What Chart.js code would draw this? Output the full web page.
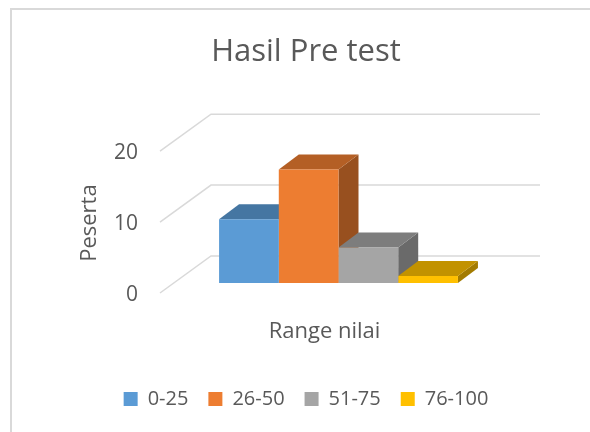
<!DOCTYPE html>
<html lang="id">
<head>
<meta charset="UTF-8">
<title>Hasil Pre test</title>
<script src="https://cdn.jsdelivr.net/npm/chart.js"></script>
<style>
  body { margin: 0; background: #fff; }
  canvas { display: block; }
</style>
</head>
<body>
<canvas id="chart" width="590" height="432"></canvas>
<script>
// data
const categories = ['Range nilai'];
const seriesNames = ['0-25', '26-50', '51-75', '76-100'];
const seriesValues = [[9], [16], [5], [1]];
const yTicks = [0, 10, 20];
const yTitle = 'Peserta';
const chartTitle = 'Hasil Pre test';

// look
const colors = ['#5B9BD5', '#ED7D31', '#A5A5A5', '#FFC000'];
const textColor = '#595959';
const gridColor = '#D9D9D9';
const fontFamily = '"Open Sans", sans-serif';

// fake 3d: offsets relative to the plane chart.js draws the bars on
const BAR_DX = 20, BAR_DY = -15;
const BACK_DX = 37, BACK_DY = -27;
const FRONT_DX = -14, FRONT_DY = 10;
const LEGEND_PAD = 20;

function shade(hex, f) {
  const n = parseInt(hex.slice(1), 16);
  const r = Math.round(((n >> 16) & 255) * f);
  const g = Math.round(((n >> 8) & 255) * f);
  const b = Math.round((n & 255) * f);
  return `rgb(${r},${g},${b})`;
}

function poly(ctx, pts) {
  ctx.beginPath();
  ctx.moveTo(pts[0][0], pts[0][1]);
  for (let i = 1; i < pts.length; i++) ctx.lineTo(pts[i][0], pts[i][1]);
  ctx.closePath();
  ctx.fill();
}

const box3d = {
  id: 'box3d',
  beforeDraw(chart) {
    const ctx = chart.ctx;
    ctx.save();
    ctx.fillStyle = '#fff';
    ctx.fillRect(0, 0, chart.width, chart.height);
    ctx.strokeStyle = gridColor;
    ctx.lineWidth = 2;
    ctx.strokeRect(11, 9, chart.width + 20, chart.height + 20);
    ctx.restore();
  },
  beforeDatasetsDraw(chart) {
    const {ctx, chartArea: a} = chart;
    const y = chart.scales.y;
    ctx.save();

    // walls / floor gridlines
    ctx.strokeStyle = gridColor;
    ctx.lineWidth = 1.5;
    yTicks.forEach(v => {
      const py = y.getPixelForValue(v);
      ctx.beginPath();
      ctx.moveTo(a.left + FRONT_DX, py + FRONT_DY);
      ctx.lineTo(a.left + BACK_DX, py + BACK_DY);
      ctx.lineTo(a.right + BACK_DX, py + BACK_DY);
      ctx.stroke();
    });

    // value labels sit on the front edge
    ctx.fillStyle = textColor;
    ctx.font = '21px ' + fontFamily;
    ctx.textAlign = 'right';
    ctx.textBaseline = 'middle';
    yTicks.forEach(v => {
      ctx.fillText(String(v), a.left + FRONT_DX - 22, y.getPixelForValue(v) + FRONT_DY + 2);
    });

    // axis title
    const mid = (y.getPixelForValue(yTicks[0]) + y.getPixelForValue(yTicks[yTicks.length - 1])) / 2;
    ctx.translate(90, mid + FRONT_DY + 1);
    ctx.rotate(-Math.PI / 2);
    ctx.textAlign = 'center';
    ctx.font = '22px ' + fontFamily;
    ctx.fillText(yTitle, 0, 0);
    ctx.restore();

    // side and top faces, left to right; fronts are drawn by chart.js afterwards
    chart.data.datasets.forEach((ds, i) => {
      chart.getDatasetMeta(i).data.forEach(el => {
        const {x, y: top, base, width} = el.getProps(['x', 'y', 'base', 'width'], true);
        const l = x - width / 2, r = x + width / 2;
        ctx.fillStyle = shade(colors[i], 0.64);
        poly(ctx, [[r, top], [r + BAR_DX, top + BAR_DY], [r + BAR_DX, base + BAR_DY], [r, base]]);
        ctx.fillStyle = shade(colors[i], 0.76);
        poly(ctx, [[l, top], [l + BAR_DX, top + BAR_DY], [r + BAR_DX, top + BAR_DY], [r, top]]);
      });
    });
  }
};

new Chart(document.getElementById('chart'), {
  type: 'bar',
  data: {
    labels: categories,
    datasets: seriesNames.map((name, i) => ({
      label: name,
      data: seriesValues[i],
      backgroundColor: colors[i],
      borderWidth: 0,
      categoryPercentage: 0.726,
      barPercentage: 1
    }))
  },
  options: {
    responsive: false,
    animation: false,
    layout: { padding: { left: 22, right: 0, top: 0, bottom: 13 } },
    plugins: {
      tooltip: { enabled: false },
      title: {
        display: true,
        text: chartTitle,
        color: textColor,
        font: { family: fontFamily, size: 31, weight: 'normal' },
        padding: { top: 34, bottom: 70 }
      },
      legend: {
        position: 'bottom',
        labels: {
          color: textColor,
          boxWidth: 14,
          boxHeight: 14,
          padding: LEGEND_PAD,
          font: { family: fontFamily, size: 20 }
        }
      }
    },
    scales: {
      x: {
        grid: { display: false },
        border: { display: false },
        ticks: { color: textColor, font: { family: fontFamily, size: 22 }, padding: 28, labelOffset: -14 },
        afterFit(s) { s.height = 106 - LEGEND_PAD; }
      },
      y: {
        min: 0,
        max: 20,
        ticks: { display: false, stepSize: 10 },
        grid: { display: false },
        border: { display: false },
        afterFit(s) { s.width = 152; }
      },
      yRight: {
        type: 'linear',
        position: 'right',
        ticks: { display: false },
        grid: { display: false },
        border: { display: false },
        afterFit(s) { s.width = 87; }
      }
    }
  },
  plugins: [box3d]
});
</script>
</body>
</html>
